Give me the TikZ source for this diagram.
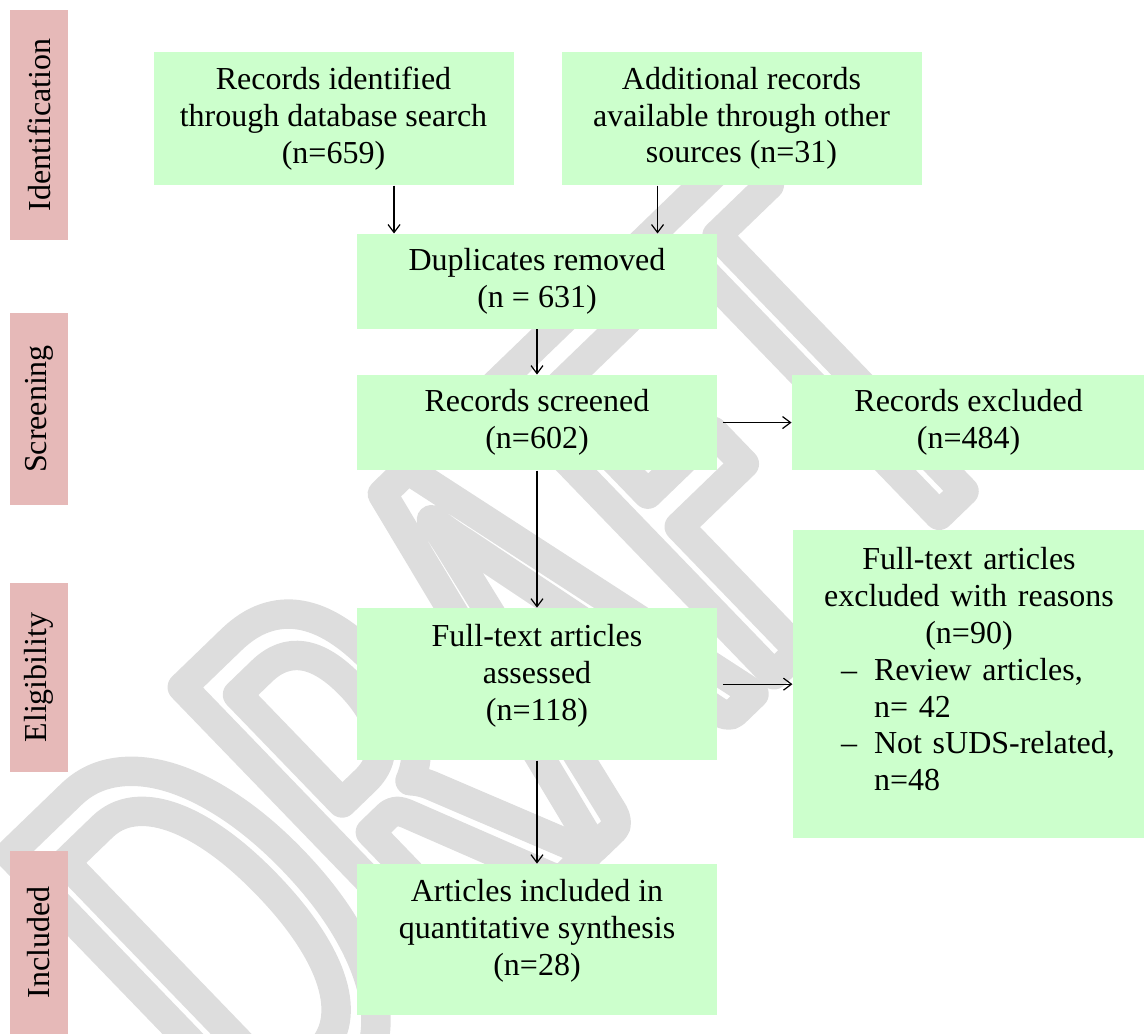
\documentclass[tikz,border=0pt]{standalone}
\usepackage{fontspec}
\setmainfont{Liberation Serif}
\newfontfamily\wmfont[FakeStretch=0.62]{Carlito}
\usetikzlibrary{positioning, arrows.meta}
\definecolor{boxgreen}{HTML}{CCFFCC}
\definecolor{phasepink}{HTML}{E6B9B8}
\definecolor{wmgray}{HTML}{DDDDDD}

\begin{document}
\begin{tikzpicture}[
    x=0.375pt, y=-0.375pt,
    >={Straight Barb[length=3pt,width=4.5pt]},
    font=\fontsize{12}{13.8}\selectfont,
    box/.style={rectangle, fill=boxgreen, minimum width=135pt, minimum height=35.6pt, align=center, inner sep=2pt},
    phase/.style={rectangle, fill=phasepink, minimum height=21.75pt, rotate=90, inner sep=0pt},
    arrow/.style={->, line width=0.45pt}
]
\useasboundingbox (0,0) rectangle (1144,1034);
% watermark
\node[rotate=44, text=wmgray, font=\wmfont\fontsize{235}{235}\selectfont] (wm) at (505,655) {\special{pdf:literal direct 1 Tr 11 w 1 j}DRAFT\special{pdf:literal direct 0 Tr}};
% phase labels
\node[phase, minimum width=86.25pt] (phaseid) at (39,125) {Identification};
\node[phase, minimum width=72pt] (phasescr) at (39,409) {Screening};
\node[phase, minimum width=71pt] (phaseelig) at (39,677.5) {Eligibility};
\node[phase, minimum width=68.6pt] (phaseinc) at (39,942.5) {Included};
% flow boxes
\node[box, minimum height=49.9pt] (rec) at (333.5,118.5) {Records identified\\through database search\\(n=659)};
\node[box, minimum height=49.9pt, right=17.6pt of rec] (other) {Additional records\\available through other\\sources (n=31)};
\node[box] (dup) at (537,281.5) {Duplicates removed\\(n = 631)};
\node[box, below=16.9pt of dup] (scr) {Records screened\\(n=602)};
\node[box, minimum width=132.4pt, right=27.75pt of scr] (excl) {Records excluded\\(n=484)};
\node[box, minimum height=57pt, below=51.4pt of scr] (full) {Full-text articles\\assessed\\(n=118)\\[-4.8pt]\mbox{}};
\node[box, minimum width=132pt, minimum height=115.5pt, text width=124pt, inner sep=4pt, right=28.1pt of full] (fullexcl) {Full-text articles\\excluded with reasons\\(n=90)\\
  \makebox[124pt][l]{\hspace*{14pt}\makebox[12.4pt][l]{--}Review articles,}\\
  \makebox[124pt][l]{\hspace*{26.4pt}n= 42}\\
  \makebox[124pt][l]{\hspace*{14pt}\makebox[12.4pt][l]{--}Not sUDS-related,}\\
  \makebox[124pt][l]{\hspace*{26.4pt}n=48}\\[-2.6pt]\mbox{}};
\node[box, minimum height=56.6pt, below=38.6pt of full] (synth) {Articles included in\\quantitative synthesis\\(n=28)\\[-4.8pt]\mbox{}};
% connectors
\coordinate (recout) at ([xshift=22.7pt]rec.south);
\coordinate (otherout) at ([xshift=-31.5pt]other.south);
\draw[arrow] (recout) -- (recout |- dup.north);
\draw[arrow] (otherout) -- (otherout |- dup.north);
\draw[arrow] (dup) -- (scr);
\draw[arrow] ([xshift=2pt]scr.east) -- (excl.west);
\draw[arrow] (scr) -- (full);
\draw[arrow] ([xshift=2pt]full.east) -- (fullexcl.west);
\draw[arrow] (full) -- (synth);
\end{tikzpicture}
\end{document}
